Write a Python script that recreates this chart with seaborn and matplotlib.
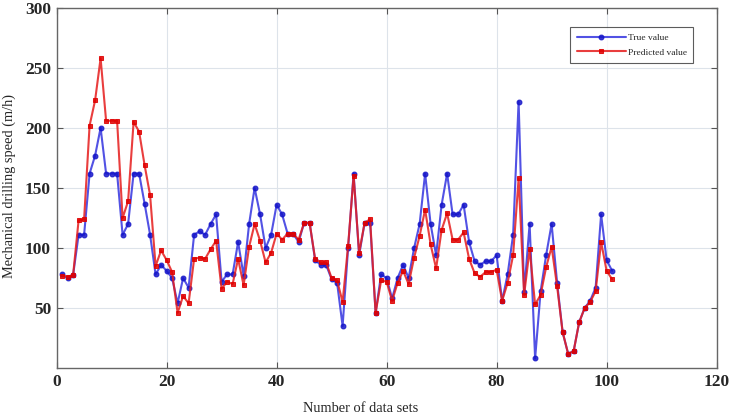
import numpy as np
import pandas as pd
import seaborn as sns
import matplotlib.pyplot as plt

# valori (101 campioni)
true_vals = [78, 75, 77.5, 111, 111, 162, 177, 200, 162, 162,
             162, 111, 120, 162, 162, 137, 111, 78, 86, 81,
             75, 54, 75, 67, 111, 114, 111, 120, 128, 72,
             78, 78, 105, 77, 120, 150, 128, 100, 111, 136,
             128, 112, 112, 105, 121, 121, 90, 86, 86, 74,
             71, 35, 100, 162, 94, 121, 121, 46, 78, 75,
             58, 75, 86, 75, 100, 120, 162, 120, 94, 136,
             162, 128, 128, 136, 105, 89, 86, 89, 89, 94,
             56, 78, 111, 222, 63, 120, 8, 64, 94, 120,
             71, 30, 12, 14, 38, 50, 56, 67, 128, 90,
             81]
pred_vals = [77, 76, 77.5, 123, 124, 202, 223, 258, 206, 206,
             206, 125, 139, 205, 197, 169, 144, 85, 98, 90,
             80, 46, 60, 54, 91, 92, 91, 99, 106, 66,
             72, 70, 91, 69, 101, 120, 106, 88, 96, 112,
             107, 112, 112, 107, 121, 121, 91, 88, 88, 75,
             73, 55, 102, 160, 96, 121, 124, 46, 73, 72,
             56, 71, 81, 70, 92, 110, 132, 103, 83, 115,
             129, 107, 107, 113, 91, 79, 76, 80, 80, 82,
             56, 71, 94, 158, 61, 99, 53, 61, 84, 101,
             68, 30, 12, 14, 38, 50, 55, 64, 105, 81,
             74]
sample_idx = np.arange(1, len(true_vals) + 1)
x_ticks = [0, 20, 40, 60, 80, 100, 120]
y_ticks = [50, 100, 150, 200, 250, 300]

df = pd.DataFrame({'n': sample_idx, 'true': true_vals, 'pred': pred_vals})

sns.set_style('whitegrid')
plt.rcParams['font.family'] = ['Liberation Serif', 'DejaVu Serif']

fig = plt.figure(figsize=(7.35, 4.15), dpi=100)
ax = fig.add_axes([0.077, 0.113, 0.898, 0.868])

sns.lineplot(data=df, x='n', y='true', ax=ax, color='#3434e0', alpha=0.85,
             linewidth=1.5, marker='o', markersize=3.5,
             markerfacecolor='#1414c8', markeredgecolor='#1414c8',
             label='True value')
sns.lineplot(data=df, x='n', y='pred', ax=ax, color='#e61c1c', alpha=0.85,
             linewidth=1.5, marker='s', markersize=3.5,
             markerfacecolor='#e00000', markeredgecolor='#e00000',
             label='Predicted value')

ax.set_xlim(0, 120)
ax.set_ylim(0, 300)
ax.set_xticks(x_ticks)
ax.set_yticks(y_ticks)
ax.set_xticklabels([str(t) for t in x_ticks], fontweight='bold', fontsize=12.5)
ax.set_yticklabels([str(t) for t in y_ticks], fontweight='bold', fontsize=12.5)
ax.grid(True, color='#dde3ea', linewidth=0.8)
ax.tick_params(direction='in', length=4, top=True, right=True, bottom=True, left=True,
               color='#555555', pad=4)
for sp in ax.spines.values():
    sp.set_color('#666666')
    sp.set_linewidth(1.0)

ax.set_xlabel('Number of data sets', fontsize=10.4)
ax.set_ylabel('Mechanical drilling speed (m/h)', fontsize=10.4)
ax.xaxis.set_label_coords(0.461, -0.094)
ax.yaxis.set_label_coords(-0.062, 0.505)

leg = ax.legend(loc='upper right', bbox_to_anchor=(0.972, 0.96), fontsize=6.8,
                frameon=True, fancybox=False, borderpad=0.7, handlelength=5.2,
                handletextpad=0.2, labelspacing=0.6)
leg.get_frame().set_edgecolor('#333333')
leg.get_frame().set_linewidth(0.8)

plt.savefig('out.png', dpi=100)
